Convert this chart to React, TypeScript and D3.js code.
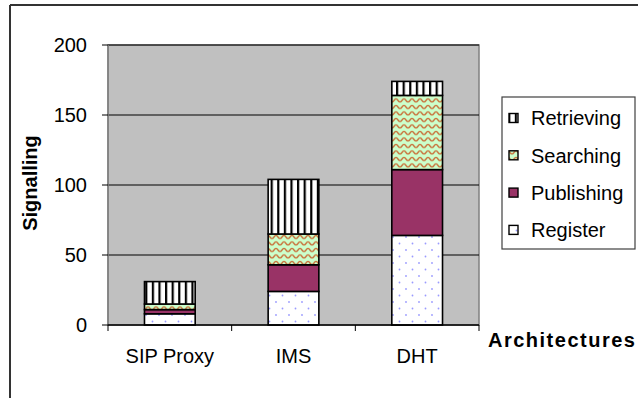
import React from "react";
import * as d3 from "d3";

const categories = ["SIP Proxy", "IMS", "DHT"];
const seriesNames = ["Register", "Publishing", "Searching", "Retrieving"];
const register = [8, 24, 64];
const publishing = [3, 19, 47];
const searching = [4, 22, 53];
const retrieving = [16, 39, 10];
const yTicks = [0, 50, 100, 150, 200];
const legendOrder = ["Retrieving", "Searching", "Publishing", "Register"];

const W = 638;
const H = 398;
const plot = { left: 108, right: 479, top: 45, bottom: 325 };
const FONT = "Liberation Sans, Arial, sans-serif";

const fills: Record<string, string> = {
  Register: "url(#pDots)",
  Publishing: "#993366",
  Searching: "url(#pWave)",
  Retrieving: "url(#pStripes)",
};

export default function App() {
  const rows = categories.map((c, i) => ({
    cat: c,
    Register: register[i],
    Publishing: publishing[i],
    Searching: searching[i],
    Retrieving: retrieving[i],
  }));
  const stack = d3.stack<any>().keys(seriesNames)(rows);
  const x = d3
    .scaleBand()
    .domain(categories)
    .range([plot.left, plot.right])
    .paddingInner(0.59)
    .paddingOuter(0.295);
  const y = d3.scaleLinear().domain([0, 200]).range([plot.bottom, plot.top]);
  const step = (plot.right - plot.left) / categories.length;
  const boundaries = d3.range(categories.length + 1).map((i) => plot.left + i * step);

  return (
    <svg
      width={W}
      height={H}
      style={{ position: "absolute", left: 0, top: 0, background: "#fff" }}
    >
      <defs>
        <pattern id="pDots" patternUnits="userSpaceOnUse" width={13} height={13}>
          <rect width={13} height={13} fill="#ffffff" />
          <circle cx={3} cy={3} r={0.9} fill="#9a9aff" />
          <circle cx={9.5} cy={9.5} r={0.9} fill="#9a9aff" />
        </pattern>
        <pattern id="pWave" patternUnits="userSpaceOnUse" width={8} height={6.5}>
          <rect width={8} height={6.5} fill="#ccffcc" />
          <path
            d="M0,4.5 C2,4.5 2,1.5 4,1.5 C6,1.5 6,4.5 8,4.5"
            fill="none"
            stroke="#c8703a"
            strokeWidth={1.4}
          />
        </pattern>
        <pattern id="pStripes" patternUnits="userSpaceOnUse" width={6.6} height={10}>
          <rect width={6.6} height={10} fill="#ffffff" />
          <rect x={0} width={2.2} height={10} fill="#000000" />
        </pattern>
      </defs>

      {/* outer frame */}
      <line x1={10} y1={5} x2={638} y2={5} stroke="#333" strokeWidth={2} />
      <line x1={10} y1={5} x2={10} y2={398} stroke="#333" strokeWidth={2} />

      {/* plot area */}
      <rect
        x={plot.left}
        y={plot.top}
        width={plot.right - plot.left}
        height={plot.bottom - plot.top}
        fill="#c0c0c0"
        stroke="#808080"
        strokeWidth={1.5}
      />
      {yTicks
        .filter((t) => t > 0)
        .map((t) => (
          <line
            key={t}
            x1={plot.left}
            x2={plot.right}
            y1={y(t)}
            y2={y(t)}
            stroke="#000"
            strokeWidth={1}
          />
        ))}

      {/* bars */}
      {stack.map((s) => (
        <g key={s.key}>
          {s.map((d, i) => (
            <rect
              key={i}
              x={x(categories[i])}
              width={x.bandwidth()}
              y={y(d[1])}
              height={y(d[0]) - y(d[1])}
              fill={fills[s.key]}
              stroke="#000"
              strokeWidth={1.6}
            />
          ))}
        </g>
      ))}

      {/* y axis */}
      <line x1={plot.left} x2={plot.left} y1={plot.top} y2={plot.bottom} stroke="#808080" strokeWidth={1.5} />
      {yTicks.map((t) => (
        <g key={t}>
          <line x1={plot.left - 6} x2={plot.left} y1={y(t)} y2={y(t)} stroke="#000" />
          <text
            x={87}
            y={y(t)}
            dy="0.36em"
            textAnchor="end"
            fontFamily={FONT}
            fontSize={20}
            fill="#000"
          >
            {t}
          </text>
        </g>
      ))}

      {/* x axis */}
      <line x1={plot.left} x2={plot.right} y1={plot.bottom} y2={plot.bottom} stroke="#000" strokeWidth={1.5} />
      {boundaries.map((bx, i) => (
        <line key={i} x1={bx} x2={bx} y1={plot.bottom} y2={plot.bottom + 6} stroke="#000" />
      ))}
      {categories.map((c) => (
        <text
          key={c}
          x={(x(c) as number) + x.bandwidth() / 2}
          y={363}
          textAnchor="middle"
          fontFamily={FONT}
          fontSize={20}
          fill="#000"
        >
          {c}
        </text>
      ))}

      {/* axis titles */}
      <text
        transform="translate(37,183) rotate(-90)"
        textAnchor="middle"
        fontFamily={FONT}
        fontSize={20}
        fontWeight="bold"
        fill="#000"
      >
        Signalling
      </text>
      <text
        x={488}
        y={347}
        fontFamily={FONT}
        fontSize={20}
        fontWeight="bold"
        letterSpacing={1.5}
        fill="#000"
      >
        Architectures
      </text>

      {/* legend */}
      <rect x={502} y={97} width={133} height={152} fill="#fff" stroke="#404040" strokeWidth={1.2} />
      {legendOrder.map((name, i) => {
        const cy = 118 + i * 37.3;
        return (
          <g key={name}>
            <rect x={509} y={cy - 4.5} width={9} height={9} fill={fills[name]} stroke="#000" strokeWidth={1.4} />
            <text x={531} y={cy} dy="0.36em" fontFamily={FONT} fontSize={20} fill="#000">
              {name}
            </text>
          </g>
        );
      })}
    </svg>
  );
}
